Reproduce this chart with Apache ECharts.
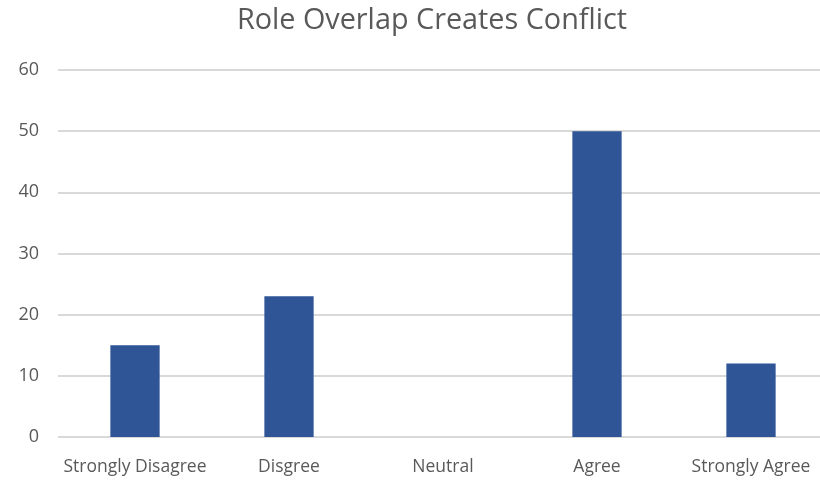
<!DOCTYPE html>
<html>
<head>
<meta charset="utf-8">
<script src="https://cdn.jsdelivr.net/npm/echarts@6/dist/echarts.min.js"></script>
<style>
    html, body { margin: 0; padding: 0; background: #fff; }
    #chart { width: 820px; height: 490px; }
</style>
</head>
<body>
<div id="chart"></div>
<script>
const categories = ['Strongly Disagree', 'Disgree', 'Neutral', 'Agree', 'Strongly Agree']
const responses = [15, 23, 0, 50, 12]
const yTicks = { min: 0, max: 60, step: 10 }

const chart = echarts.init(document.getElementById('chart'))
chart.setOption({
    animation: false,
    title: {
        text: 'Role Overlap Creates Conflict',
        left: 427,
        top: 1,
        textAlign: 'center',
        textStyle: {
            fontFamily: 'Open Sans',
            fontWeight: 'normal',
            fontSize: 28.8,
            color: '#595959'
        }
    },
    grid: {
        left: 58,
        top: 70,
        width: 770,
        height: 367,
        outerBoundsMode: 'none'
    },
    xAxis: {
        type: 'category',
        data: categories,
        axisLine: { show: false },
        axisTick: { show: false },
        axisLabel: {
            interval: 0,
            margin: 21,
            fontFamily: 'Open Sans',
            fontSize: 17.5,
            color: '#595959'
        }
    },
    yAxis: {
        type: 'value',
        min: yTicks.min,
        max: yTicks.max,
        interval: yTicks.step,
        axisLine: { show: false },
        axisTick: { show: false },
        axisLabel: {
            margin: 19,
            fontFamily: 'Open Sans',
            fontSize: 18,
            color: '#595959'
        },
        splitLine: {
            lineStyle: { color: '#d9d9d9', width: 2 }
        }
    },
    series: [{
        type: 'bar',
        data: responses,
        barWidth: '32%',
        itemStyle: { color: '#2f5597' }
    }]
})
</script>
</body>
</html>
